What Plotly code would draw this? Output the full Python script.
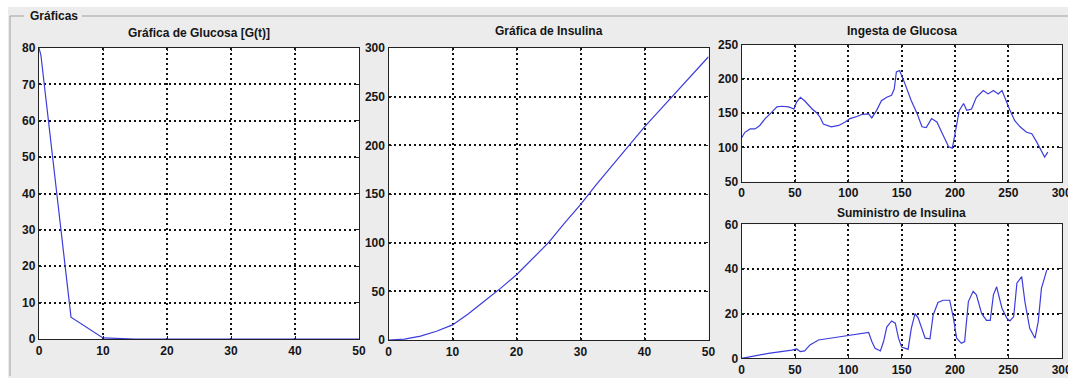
import plotly.graph_objects as go

# --- Gráfica de Glucosa [G(t)] ---
t_glucosa = [0, 0.3, 5, 10, 15, 20, 25, 30, 35, 40, 45, 50]
glucosa = [80, 78, 6, 0.3, 0, 0, 0, 0, 0, 0, 0, 0]

# --- Gráfica de Insulina ---
t_insulina = [0, 2.5, 5, 7.5, 10, 12.5, 15, 17.5, 20, 22.5, 25, 27.5, 30,
              32.5, 35, 37.5, 40, 42.5, 45, 47.5, 50]
insulina = [0, 1, 4, 9, 15.5, 27, 40, 53, 67, 83, 100, 120, 139,
            160, 180, 200, 219, 237, 255, 273, 291]

# --- Ingesta de Glucosa ---
t_ingesta = [0, 3, 8, 12.5, 17, 22, 28, 33, 37.5, 44, 49, 51.5, 55, 59, 66, 70,
             73.5, 76.5, 84, 91, 97, 101.5, 108, 112.5, 119, 122, 126.5, 131,
             136, 140.5, 143, 145, 148, 150, 153, 159, 164, 169, 173, 178, 183,
             187.5, 194, 197.5, 200.5, 204, 208, 211, 215.5, 220, 226.5, 231,
             236, 240.5, 244, 247, 251.5, 256, 261, 267, 272, 276.5, 281, 284, 287]
ingesta = [114, 122, 127, 127, 132, 142, 151, 159, 160, 159, 156, 166, 173, 168,
           156, 151, 144, 134, 130, 132, 137, 142, 145, 148, 149, 143, 154, 168,
           173, 176, 185, 210, 212, 205, 193, 168, 151, 130, 129, 142, 137, 122,
           101, 99, 125, 154, 164, 154, 156, 173, 183, 178, 183, 178, 183, 171,
           154, 139, 130, 122, 120, 108, 95, 86, 93]

# --- Suministro de Insulina ---
t_suministro = [0, 3, 25, 47, 51.5, 55, 59, 64, 72, 87.5, 103, 119, 122, 125, 130,
                133, 136, 140.5, 144, 147, 150, 156, 159, 162.5, 165.5, 169, 172,
                176.5, 179.5, 184, 189, 195, 198.5, 201.5, 206, 209, 212.5, 217,
                220, 225, 229.5, 233, 236, 239, 244, 248.5, 251.5, 255, 258, 262.5,
                265.5, 270, 275, 278, 281, 286]
suministro = [0, 0.3, 2.2, 3.7, 4.2, 3, 3.3, 6, 8.2, 9.3, 10.4, 11.6, 7.5, 4.5, 3.3,
              7.5, 14, 16.7, 15.7, 9, 5, 4, 13.4, 20, 18, 12.7, 9, 8.7, 19.4, 25,
              26, 26, 18, 9, 6.7, 7.5, 25.4, 30, 28.4, 20, 17, 17, 28.4, 32, 22.4,
              18, 16.7, 18.7, 33.6, 36.6, 25.4, 13.4, 9, 16.4, 31.3, 39.5]

W, H = 1068, 383
LINE_COLOR = "#3c3cdc"
TEXT_COLOR = "#151515"
FONT = "Liberation Sans, Arial, sans-serif"
TEXT_FONT = dict(family=FONT, size=12, color=TEXT_COLOR, weight="bold")


def px_x(v):
    return v / W


def px_y(v):
    return 1 - v / H


fig = go.Figure()

panels = [
    # (x data, y data, x axis id, y axis id, x range, x dtick, y range, y dtick, x px, y px)
    (t_glucosa, glucosa, "x", "y", [0, 50], 10, [0, 80], 10, (39, 359), (339, 48)),
    (t_insulina, insulina, "x2", "y2", [0, 50], 10, [0, 300], 50, (388.5, 708.5), (340, 48)),
    (t_ingesta, ingesta, "x3", "y3", [0, 300], 50, [50, 250], 50, (741.7, 1061.7), (181.7, 44.5)),
    (t_suministro, suministro, "x4", "y4", [0, 300], 50, [0, 60], 20, (741.7, 1061.7), (358.3, 224.3)),
]

layout_axes = {}
for i, (xs, ys, xa, ya, xr, xd, yr, yd, xpx, ypx) in enumerate(panels):
    fig.add_trace(go.Scatter(x=xs, y=ys, xaxis=xa, yaxis=ya, mode="lines",
                             line=dict(color=LINE_COLOR, width=1.2),
                             showlegend=False, hoverinfo="skip"))
    n = "" if i == 0 else str(i + 1)
    common = dict(
        showgrid=True, gridcolor="#111111", gridwidth=1.6, griddash="2px,3px",
        showline=True, linecolor="#222222", linewidth=1.3, mirror="ticks",
        ticks="inside", ticklen=3, tickcolor="#222222", zeroline=False,
        automargin=False, ticklabeloverflow="allow",
        tickfont=TEXT_FONT,
        fixedrange=True,
    )
    layout_axes["xaxis" + n] = dict(common, domain=[px_x(xpx[0]), px_x(xpx[1])],
                                    range=xr, dtick=xd, tick0=0,
                                    anchor="y" + n)
    layout_axes["yaxis" + n] = dict(common, domain=[px_y(ypx[0]), px_y(ypx[1])],
                                    range=yr, dtick=yd, tick0=0,
                                    anchor="x" + n)

fig.update_layout(**layout_axes)

titles = [
    ("Gráfica de Glucosa [G(t)]", 199, 33),
    ("Gráfica de Insulina", 548.5, 31),
    ("Ingesta de Glucosa", 901.7, 31),
    ("Suministro de Insulina", 901.7, 213),
]
annotations = [
    dict(text=t, x=px_x(x), y=px_y(y), xref="paper", yref="paper",
         xanchor="center", yanchor="middle", showarrow=False, font=TEXT_FONT)
    for t, x, y in titles
]
annotations.append(dict(text="Gráficas", x=px_x(28), y=px_y(16), xref="paper",
                        yref="paper", xanchor="left", yanchor="middle",
                        showarrow=False, font=TEXT_FONT))

shapes = [
    # white margins around the grey panel
    dict(type="rect", xref="paper", yref="paper", x0=0, x1=1, y0=px_y(0), y1=px_y(7),
         fillcolor="white", line=dict(width=0), layer="below"),
    dict(type="rect", xref="paper", yref="paper", x0=0, x1=px_x(8), y0=0, y1=1,
         fillcolor="white", line=dict(width=0), layer="below"),
    dict(type="rect", xref="paper", yref="paper", x0=0, x1=1, y0=0, y1=px_y(378),
         fillcolor="white", line=dict(width=0), layer="below"),
    # group box frame
    dict(type="line", xref="paper", yref="paper", x0=px_x(10), x1=px_x(24),
         y0=px_y(16), y1=px_y(16), line=dict(color="#a0a0a0", width=1)),
    dict(type="line", xref="paper", yref="paper", x0=px_x(82), x1=1,
         y0=px_y(16), y1=px_y(16), line=dict(color="#a0a0a0", width=1)),
    dict(type="line", xref="paper", yref="paper", x0=px_x(10), x1=px_x(10),
         y0=px_y(16), y1=px_y(376), line=dict(color="#a0a0a0", width=1)),
]

fig.update_layout(
    width=W, height=H, autosize=False,
    margin=dict(l=0, r=0, t=0, b=0, pad=0),
    paper_bgcolor="#ececec", plot_bgcolor="white",
    annotations=annotations, shapes=shapes,
    font=TEXT_FONT,
)

fig.write_html("out.html", config={"displayModeBar": False})
